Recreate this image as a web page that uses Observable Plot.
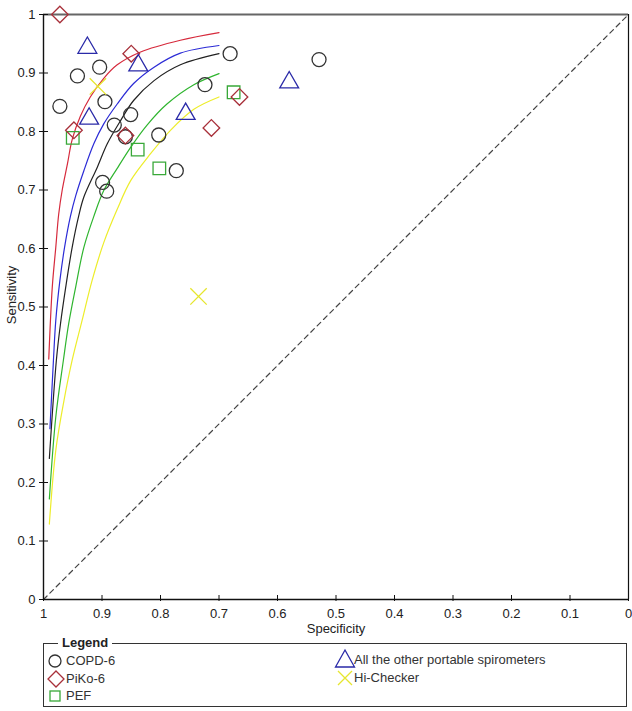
<!DOCTYPE html>
<html>
<head>
<meta charset="utf-8">
<script src="https://cdn.jsdelivr.net/npm/d3@7"></script>
<script src="https://cdn.jsdelivr.net/npm/@observablehq/plot@0.6"></script>
<style>
  html, body { margin: 0; padding: 0; background: #fff; }
  body { font-family: "Liberation Sans", Arial, sans-serif; }
  #wrap { position: relative; width: 632px; height: 711px; overflow: hidden; }
  #chart svg { display: block; }
  #legend { position: absolute; left: 43px; top: 643px; width: 584px; height: 64px;
            border: 1px solid #333; box-sizing: border-box; }
  #legend .title { position: absolute; left: 14px; top: -9px; background: #fff; padding: 0 4px;
                   font-weight: bold; font-size: 13px; line-height: 16px; color: #222; }
  #legend .item { position: absolute; font-size: 13px; line-height: 16px; color: #333; white-space: nowrap; }
  #legend svg { position: absolute; left: 0; top: 0; overflow: visible; }
</style>
</head>
<body>
<div id="wrap">
  <div id="chart"></div>
  <div id="legend"></div>
</div>
<script>
// ---- data (specificity, sensitivity) ----
const tickValues = [0, 0.1, 0.2, 0.3, 0.4, 0.5, 0.6, 0.7, 0.8, 0.9, 1];

const copd6 = [[0.972,0.843],[0.942,0.895],[0.904,0.910],[0.895,0.851],[0.879,0.811],
               [0.851,0.829],[0.860,0.791],[0.899,0.713],[0.892,0.698],[0.803,0.794],
               [0.773,0.733],[0.724,0.880],[0.681,0.933],[0.529,0.923]];
const piko6 = [[0.972,1.000],[0.850,0.933],[0.948,0.802],[0.860,0.793],[0.713,0.806],[0.665,0.859]];
const pef = [[0.950,0.789],[0.839,0.769],[0.802,0.737],[0.675,0.867]];
const otherSpiro = [[0.925,0.943],[0.922,0.822],[0.838,0.913],[0.757,0.830],[0.580,0.884]];
const hiChecker = [[0.907,0.877],[0.735,0.518]];

// SROC curves
const curveRed = [[0.991,0.411],[0.985,0.534],[0.979,0.602],[0.974,0.659],[0.968,0.700],[0.959,0.745],
  [0.951,0.786],[0.937,0.826],[0.920,0.859],[0.897,0.891],[0.874,0.914],[0.834,0.936],[0.766,0.956],[0.700,0.969]];
const curveBlue = [[0.989,0.292],[0.983,0.409],[0.979,0.477],[0.972,0.545],[0.964,0.602],[0.954,0.655],
  [0.945,0.690],[0.931,0.733],[0.914,0.779],[0.897,0.813],[0.874,0.847],[0.846,0.882],[0.811,0.910],[0.766,0.934],[0.700,0.947]];
const curveBlack = [[0.990,0.241],[0.978,0.409],[0.971,0.471],[0.962,0.534],[0.951,0.602],[0.940,0.655],
  [0.931,0.688],[0.908,0.739],[0.891,0.779],[0.868,0.819],[0.846,0.853],[0.811,0.887],[0.766,0.914],[0.700,0.933]];
const curveGreen = [[0.990,0.172],[0.979,0.312],[0.966,0.409],[0.957,0.471],[0.945,0.534],[0.931,0.602],
  [0.914,0.655],[0.897,0.699],[0.874,0.737],[0.851,0.773],[0.823,0.811],[0.789,0.847],[0.743,0.880],[0.700,0.899]];
const curveYellow = [[0.990,0.129],[0.979,0.255],[0.965,0.340],[0.951,0.409],[0.934,0.477],[0.917,0.545],
  [0.897,0.610],[0.874,0.667],[0.851,0.716],[0.817,0.762],[0.783,0.802],[0.743,0.838],[0.700,0.859]];

const diagonal = [[1,0],[0,1]];

const legendNames = ["COPD-6", "PiKo-6", "PEF", "All the other portable spirometers", "Hi-Checker"];

// ---- chart ----
const fmt = d3.format("~g");
const FONT = "'Liberation Sans', Arial, sans-serif";

const curve = (data, color) => Plot.line(data, {x: d => d[0], y: d => d[1], stroke: color,
  strokeWidth: 1.2, curve: "catmull-rom"});
const pts = (data, symbol, color, r) => Plot.dot(data, {x: d => d[0], y: d => d[1], symbol,
  stroke: color, r, strokeWidth: 1.3, fill: "none"});

const chart = Plot.plot({
  width: 632,
  height: 636,
  marginLeft: 43,
  marginRight: 4,
  marginTop: 14,
  marginBottom: 37,
  style: {fontFamily: FONT, fontSize: "13px", color: "#222", background: "#fff"},
  x: {domain: [1, 0], label: null},
  y: {domain: [0, 1], label: null},
  marks: [
    Plot.ruleY([1], {stroke: "#666", strokeWidth: 2}),
    Plot.ruleX([0], {stroke: "#111", strokeWidth: 1.2}),
    Plot.line(diagonal, {x: d => d[0], y: d => d[1], stroke: "#444", strokeWidth: 1.2, strokeDasharray: "5,4"}),
    curve(curveYellow, "#eded2a"),
    curve(curveGreen, "#2fb52f"),
    curve(curveBlack, "#222"),
    curve(curveBlue, "#2b2bd6"),
    curve(curveRed, "#d62a3c"),
    pts(copd6, "circle", "#333", 7),
    pts(pef, "square2", "#38a838", 8),
    pts(piko6, "diamond2", "#a8303a", 7.5),
    pts(otherSpiro, "triangle2", "#2a2aa8", 9),
    pts(hiChecker, "times", "#e6e62e", 7.5),
    Plot.ruleX([1], {stroke: "#111", strokeWidth: 1.4}),
    Plot.ruleY([0], {stroke: "#111", strokeWidth: 1.4}),
    Plot.axisX({ticks: tickValues, tickFormat: fmt, tickSize: 6, dy: -4, tickPadding: 7,
      stroke: "#111", fill: "#222", label: null}),
    Plot.axisY({ticks: tickValues, tickFormat: fmt, tickSize: 9, dx: 5, tickPadding: 4,
      stroke: "#111", fill: "#222", label: null}),
    Plot.text(["Specificity"], {frameAnchor: "bottom", lineAnchor: "middle", textAnchor: "middle",
      dy: 29, fill: "#222", fontSize: 13}),
    Plot.text(["Sensitivity"], {frameAnchor: "left", textAnchor: "middle", lineAnchor: "middle",
      rotate: -90, dx: -32, dy: -12, fill: "#222", fontSize: 13})
  ]
});
document.getElementById("chart").appendChild(chart);

// ---- legend ----
const legend = document.getElementById("legend");
const ox = 43, oy = 643;
legend.innerHTML = `<span class="title">Legend</span>`;
const items = [
  {name: legendNames[0], cx: 54, cy: 660, tx: 66},
  {name: legendNames[1], cx: 55, cy: 678, tx: 66},
  {name: legendNames[2], cx: 54, cy: 695, tx: 66},
  {name: legendNames[3], cx: 344, cy: 659, tx: 354},
  {name: legendNames[4], cx: 344, cy: 677, tx: 354}
];
const svgNS = "http://www.w3.org/2000/svg";
const lsvg = document.createElementNS(svgNS, "svg");
lsvg.setAttribute("width", 584); lsvg.setAttribute("height", 64);
const shapes = [
  (x, y) => `<circle cx="${x}" cy="${y}" r="6" fill="none" stroke="#333" stroke-width="1.3"/>`,
  (x, y) => `<path d="M${x},${y-8}L${x+8},${y}L${x},${y+8}L${x-8},${y}Z" fill="none" stroke="#a8303a" stroke-width="1.3"/>`,
  (x, y) => `<rect x="${x-5}" y="${y-5}" width="10" height="10" fill="none" stroke="#38a838" stroke-width="1.3"/>`,
  (x, y) => `<path d="M${x},${y-10}L${x+9.5},${y+7}L${x-9.5},${y+7}Z" fill="none" stroke="#2a2aa8" stroke-width="1.3"/>`,
  (x, y) => `<path d="M${x-7},${y-7}L${x+7},${y+7}M${x+7},${y-7}L${x-7},${y+7}" fill="none" stroke="#e6e62e" stroke-width="1.3"/>`
];
let inner = "";
items.forEach((it, i) => { inner += shapes[i](it.cx - ox, it.cy - oy); });
lsvg.innerHTML = inner;
legend.appendChild(lsvg);
items.forEach(it => {
  const s = document.createElement("span");
  s.className = "item";
  s.textContent = it.name;
  s.style.left = (it.tx - ox - 1) + "px";
  s.style.top = (it.cy - oy - 8) + "px";
  legend.appendChild(s);
});
</script>
</body>
</html>
